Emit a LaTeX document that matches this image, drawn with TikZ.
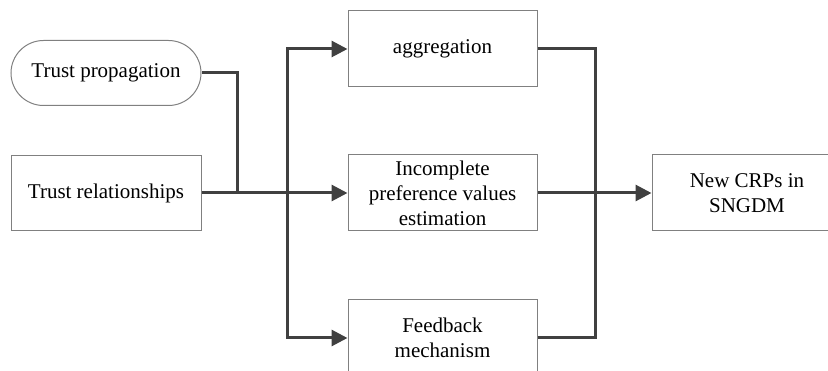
\documentclass[tikz,border=0pt]{standalone}
\usepackage{fontspec}
\setmainfont{Liberation Serif}
\usetikzlibrary{arrows.meta,shapes.misc}
\definecolor{lineC}{HTML}{404040}
\definecolor{boxC}{HTML}{808080}
\begin{document}
\begin{tikzpicture}[x=1pt,y=-1pt,
  box/.style={draw=boxC,line width=1pt,fill=white,minimum width=189pt,minimum height=76pt,
    inner sep=0pt,align=center,font=\fontsize{21}{25}\selectfont},
  stad/.style={box,rounded rectangle,minimum height=65pt,minimum width=190pt},
  conn/.style={draw=lineC,line width=3pt,line join=miter},
  arr/.style={conn,-{Triangle[length=16pt,width=16pt]}}]
\useasboundingbox (0,0) rectangle (828,371);
\node[stad] (tp) at (106,73) {Trust propagation};
\node[box,minimum width=190pt,minimum height=75pt] (tr) at (106,193) {Trust relationships};
\node[box] (agg) at (442.5,49) {aggregation};
\node[box] (inc) at (442.5,193) {Incomplete\\preference values\\estimation};
\node[box] (fb) at (442.5,338) {Feedback\\mechanism};
\node[box,minimum width=190pt] (crp) at (747,193) {New CRPs in\\SNGDM};
\coordinate (j1) at (237,193);
\coordinate (bus) at (287,193);
\coordinate (col) at (595,193);
\draw[conn] (tp.east) -| (j1);
\draw[arr] (tr.east) -- (inc.west);
\draw[arr] (bus) |- (agg.west);
\draw[arr] (bus) |- (fb.west);
\draw[conn] (agg.east) -| (col);
\draw[conn] (fb.east) -| (col);
\draw[arr] (inc.east) -- (crp.west);
\end{tikzpicture}
\end{document}
